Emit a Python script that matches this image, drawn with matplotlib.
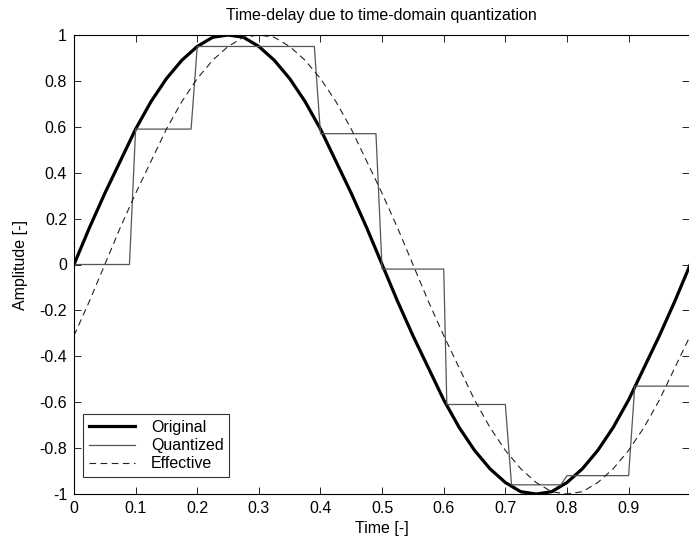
import matplotlib
matplotlib.use("Agg")
import matplotlib.pyplot as plt

# Original signal, read at 0.025 time steps
orig_t = [i * 0.025 for i in range(41)]
orig_v = [0, 0.16, 0.31, 0.45, 0.59, 0.71, 0.81, 0.89, 0.95, 0.99, 1.0,
          0.99, 0.95, 0.89, 0.81, 0.71, 0.59, 0.45, 0.31, 0.16, 0,
          -0.16, -0.31, -0.45, -0.59, -0.71, -0.81, -0.89, -0.95, -0.99, -1.0,
          -0.99, -0.95, -0.89, -0.81, -0.71, -0.59, -0.45, -0.31, -0.16, 0]

# Effective (delayed) signal, read at 0.025 time steps
eff_t = [i * 0.025 for i in range(41)]
eff_v = [-0.31, -0.16, 0, 0.16, 0.31, 0.45, 0.59, 0.71, 0.81, 0.89, 0.95,
         0.99, 1.0, 0.99, 0.95, 0.89, 0.81, 0.71, 0.59, 0.45, 0.31,
         0.16, 0, -0.16, -0.31, -0.45, -0.59, -0.71, -0.81, -0.89, -0.95,
         -0.99, -1.0, -0.99, -0.95, -0.89, -0.81, -0.71, -0.59, -0.45, -0.31]

# Quantized (step) signal
q_t = [0, 0.09, 0.10, 0.19, 0.20, 0.39, 0.40, 0.49, 0.50, 0.60, 0.605,
       0.70, 0.71, 0.79, 0.80, 0.90, 0.91, 1.0]
q_v = [0, 0, 0.59, 0.59, 0.95, 0.95, 0.57, 0.57, -0.02, -0.02, -0.61,
       -0.61, -0.96, -0.96, -0.92, -0.92, -0.53, -0.53]

xticks = [0, 0.1, 0.2, 0.3, 0.4, 0.5, 0.6, 0.7, 0.8, 0.9]
xticklabels = ["0", "0.1", "0.2", "0.3", "0.4", "0.5", "0.6", "0.7", "0.8", "0.9"]
yticks = [-1, -0.8, -0.6, -0.4, -0.2, 0, 0.2, 0.4, 0.6, 0.8, 1]
yticklabels = ["-1", "-0.8", "-0.6", "-0.4", "-0.2", "0", "0.2", "0.4", "0.6", "0.8", "1"]

plt.rcParams['font.family'] = ['Liberation Sans', 'DejaVu Sans']
FS = 11.5

fig = plt.figure(figsize=(6.89, 5.43), dpi=100)
ax = fig.add_axes([74 / 689, 49 / 543, 1 - 74 / 689, (494 - 35) / 543])

ax.plot(orig_t, orig_v, color='black', linewidth=2.3, label='Original')
ax.plot(q_t, q_v, color='#555555', linewidth=0.9, label='Quantized')
ax.plot(eff_t, eff_v, color='#222222', linewidth=0.8, linestyle=(0, (6, 4)), label='Effective')

ax.set_xlim(0, 0.998)
ax.set_ylim(-1, 1)
ax.set_xticks(xticks)
ax.set_xticklabels(xticklabels)
ax.set_yticks(yticks)
ax.set_yticklabels(yticklabels)
ax.tick_params(direction='in', top=True, right=True, labelsize=FS, length=5, width=0.6, pad=5)
for s in ax.spines.values():
    s.set_linewidth(0.8)
ax.spines['right'].set_visible(False)

ax.set_xlabel('Time [-]', fontsize=FS, labelpad=4)
ax.set_ylabel('Amplitude [-]', fontsize=FS, labelpad=8)
ax.set_title('Time-delay due to time-domain quantization', fontsize=FS, pad=11)

leg = ax.legend(loc='lower left', bbox_to_anchor=(9 / 615, 17 / 459), fontsize=FS,
                frameon=True, fancybox=False, edgecolor='black', borderaxespad=0,
                handlelength=2.9, handletextpad=1.0, labelspacing=0.2, borderpad=0.35)
leg.get_frame().set_linewidth(0.8)

fig.savefig('out.png', dpi=100)
